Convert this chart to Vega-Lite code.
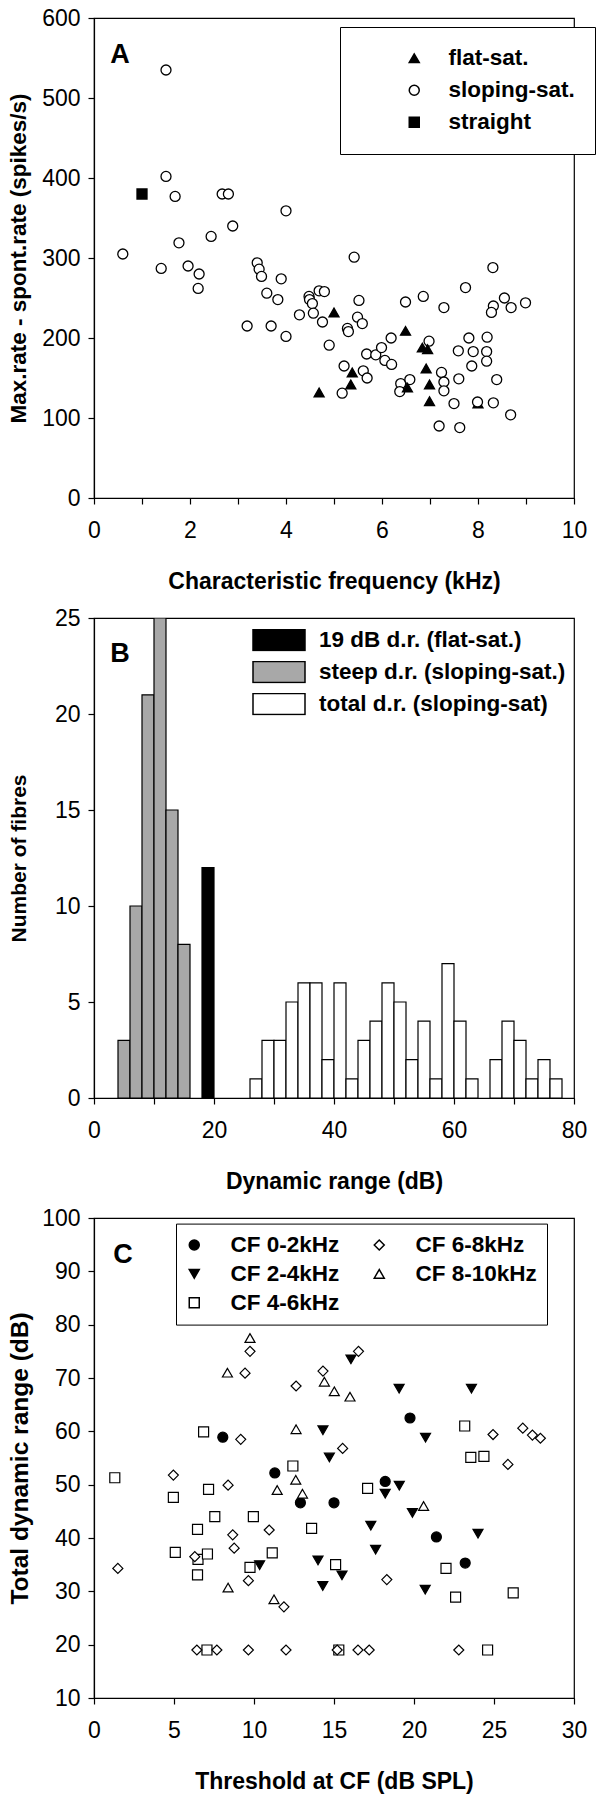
{
  "$schema": "https://vega.github.io/schema/vega-lite/v6.json",
  "padding": {"left": 6, "top": 6, "right": 5, "bottom": 5},
  "spacing": 12,
  "resolve": {"scale": {"x": "independent", "y": "independent", "fill": "independent", "shape": "independent"}, "legend": {"fill": "independent", "shape": "independent"}},
  "datasets": {
    "a": [
      {"f":1.5,"r":535,"type":"sloping-sat."},{"f":1.5,"r":402,"type":"sloping-sat."},{"f":1.69,"r":377,"type":"sloping-sat."},{"f":2.67,"r":380,"type":"sloping-sat."},{"f":2.8,"r":380,"type":"sloping-sat."},{"f":4.0,"r":359,"type":"sloping-sat."},{"f":2.89,"r":340,"type":"sloping-sat."},{"f":2.44,"r":327,"type":"sloping-sat."},{"f":1.77,"r":319,"type":"sloping-sat."},{"f":0.6,"r":305,"type":"sloping-sat."},{"f":1.4,"r":287,"type":"sloping-sat."},{"f":1.96,"r":290,"type":"sloping-sat."},{"f":2.19,"r":280,"type":"sloping-sat."},{"f":2.17,"r":262,"type":"sloping-sat."},{"f":3.4,"r":294,"type":"sloping-sat."},{"f":3.44,"r":286,"type":"sloping-sat."},{"f":3.49,"r":277,"type":"sloping-sat."},{"f":3.9,"r":274,"type":"sloping-sat."},{"f":3.6,"r":256,"type":"sloping-sat."},{"f":3.83,"r":248,"type":"sloping-sat."},{"f":4.48,"r":252,"type":"sloping-sat."},{"f":4.49,"r":248,"type":"sloping-sat."},{"f":4.55,"r":243,"type":"sloping-sat."},{"f":4.57,"r":231,"type":"sloping-sat."},{"f":4.69,"r":259,"type":"sloping-sat."},{"f":4.8,"r":258,"type":"sloping-sat."},{"f":3.19,"r":215,"type":"sloping-sat."},{"f":3.69,"r":215,"type":"sloping-sat."},{"f":4.0,"r":202,"type":"sloping-sat."},{"f":4.28,"r":229,"type":"sloping-sat."},{"f":4.76,"r":220,"type":"sloping-sat."},{"f":4.9,"r":191,"type":"sloping-sat."},{"f":5.42,"r":301,"type":"sloping-sat."},{"f":5.52,"r":247,"type":"sloping-sat."},{"f":5.49,"r":226,"type":"sloping-sat."},{"f":5.59,"r":218,"type":"sloping-sat."},{"f":5.28,"r":212,"type":"sloping-sat."},{"f":5.3,"r":208,"type":"sloping-sat."},{"f":5.17,"r":131,"type":"sloping-sat."},{"f":5.21,"r":165,"type":"sloping-sat."},{"f":5.61,"r":159,"type":"sloping-sat."},{"f":5.69,"r":150,"type":"sloping-sat."},{"f":5.68,"r":180,"type":"sloping-sat."},{"f":5.87,"r":179,"type":"sloping-sat."},{"f":5.99,"r":188,"type":"sloping-sat."},{"f":6.06,"r":172,"type":"sloping-sat."},{"f":6.2,"r":167,"type":"sloping-sat."},{"f":6.19,"r":200,"type":"sloping-sat."},{"f":6.49,"r":245,"type":"sloping-sat."},{"f":6.86,"r":252,"type":"sloping-sat."},{"f":7.29,"r":238,"type":"sloping-sat."},{"f":7.74,"r":263,"type":"sloping-sat."},{"f":6.98,"r":196,"type":"sloping-sat."},{"f":6.39,"r":143,"type":"sloping-sat."},{"f":6.37,"r":133,"type":"sloping-sat."},{"f":6.58,"r":148,"type":"sloping-sat."},{"f":7.24,"r":157,"type":"sloping-sat."},{"f":7.29,"r":145,"type":"sloping-sat."},{"f":7.29,"r":134,"type":"sloping-sat."},{"f":7.5,"r":118,"type":"sloping-sat."},{"f":7.19,"r":90,"type":"sloping-sat."},{"f":7.62,"r":88,"type":"sloping-sat."},{"f":7.6,"r":149,"type":"sloping-sat."},{"f":7.59,"r":184,"type":"sloping-sat."},{"f":7.9,"r":183,"type":"sloping-sat."},{"f":7.87,"r":165,"type":"sloping-sat."},{"f":7.81,"r":200,"type":"sloping-sat."},{"f":8.19,"r":201,"type":"sloping-sat."},{"f":8.18,"r":183,"type":"sloping-sat."},{"f":8.18,"r":171,"type":"sloping-sat."},{"f":8.39,"r":148,"type":"sloping-sat."},{"f":8.32,"r":119,"type":"sloping-sat."},{"f":8.68,"r":104,"type":"sloping-sat."},{"f":8.32,"r":240,"type":"sloping-sat."},{"f":8.28,"r":232,"type":"sloping-sat."},{"f":8.55,"r":250,"type":"sloping-sat."},{"f":8.69,"r":238,"type":"sloping-sat."},{"f":8.99,"r":244,"type":"sloping-sat."},{"f":8.31,"r":288,"type":"sloping-sat."},
      {"f":4.69,"r":132,"type":"flat-sat."},{"f":5.0,"r":232,"type":"flat-sat."},{"f":5.38,"r":157,"type":"flat-sat."},{"f":5.35,"r":142,"type":"flat-sat."},{"f":6.49,"r":209,"type":"flat-sat."},{"f":6.84,"r":188,"type":"flat-sat."},{"f":6.95,"r":186,"type":"flat-sat."},{"f":6.92,"r":162,"type":"flat-sat."},{"f":6.99,"r":142,"type":"flat-sat."},{"f":6.99,"r":121,"type":"flat-sat."},{"f":6.53,"r":138,"type":"flat-sat."},{"f":8.0,"r":118,"type":"flat-sat."},
      {"f":7.99,"r":120,"type":"sloping-sat."},
      {"f":1.0,"r":380,"type":"straight"}
    ],
    "b": [
      {"lo":4,"hi":6,"n":3,"kind":"steep d.r. (sloping-sat.)"},{"lo":6,"hi":8,"n":10,"kind":"steep d.r. (sloping-sat.)"},{"lo":8,"hi":10,"n":21,"kind":"steep d.r. (sloping-sat.)"},{"lo":10,"hi":12,"n":25,"kind":"steep d.r. (sloping-sat.)"},{"lo":12,"hi":14,"n":15,"kind":"steep d.r. (sloping-sat.)"},{"lo":14,"hi":16,"n":8,"kind":"steep d.r. (sloping-sat.)"},
      {"lo":18,"hi":20,"n":12,"kind":"19 dB d.r. (flat-sat.)"},
      {"lo":26,"hi":28,"n":1,"kind":"total d.r. (sloping-sat)"},{"lo":28,"hi":30,"n":3,"kind":"total d.r. (sloping-sat)"},{"lo":30,"hi":32,"n":3,"kind":"total d.r. (sloping-sat)"},{"lo":32,"hi":34,"n":5,"kind":"total d.r. (sloping-sat)"},{"lo":34,"hi":36,"n":6,"kind":"total d.r. (sloping-sat)"},{"lo":36,"hi":38,"n":6,"kind":"total d.r. (sloping-sat)"},{"lo":38,"hi":40,"n":2,"kind":"total d.r. (sloping-sat)"},{"lo":40,"hi":42,"n":6,"kind":"total d.r. (sloping-sat)"},{"lo":42,"hi":44,"n":1,"kind":"total d.r. (sloping-sat)"},{"lo":44,"hi":46,"n":3,"kind":"total d.r. (sloping-sat)"},{"lo":46,"hi":48,"n":4,"kind":"total d.r. (sloping-sat)"},{"lo":48,"hi":50,"n":6,"kind":"total d.r. (sloping-sat)"},{"lo":50,"hi":52,"n":5,"kind":"total d.r. (sloping-sat)"},{"lo":52,"hi":54,"n":2,"kind":"total d.r. (sloping-sat)"},{"lo":54,"hi":56,"n":4,"kind":"total d.r. (sloping-sat)"},{"lo":56,"hi":58,"n":1,"kind":"total d.r. (sloping-sat)"},{"lo":58,"hi":60,"n":7,"kind":"total d.r. (sloping-sat)"},{"lo":60,"hi":62,"n":4,"kind":"total d.r. (sloping-sat)"},{"lo":62,"hi":64,"n":1,"kind":"total d.r. (sloping-sat)"},{"lo":66,"hi":68,"n":2,"kind":"total d.r. (sloping-sat)"},{"lo":68,"hi":70,"n":4,"kind":"total d.r. (sloping-sat)"},{"lo":70,"hi":72,"n":3,"kind":"total d.r. (sloping-sat)"},{"lo":72,"hi":74,"n":1,"kind":"total d.r. (sloping-sat)"},{"lo":74,"hi":76,"n":2,"kind":"total d.r. (sloping-sat)"},{"lo":76,"hi":78,"n":1,"kind":"total d.r. (sloping-sat)"}
    ],
    "c": [
      {"t":8.05,"d":58.9,"cf":"CF 0-2kHz"},{"t":11.3,"d":52.2,"cf":"CF 0-2kHz"},{"t":12.9,"d":46.6,"cf":"CF 0-2kHz"},{"t":15.0,"d":46.6,"cf":"CF 0-2kHz"},{"t":18.2,"d":50.6,"cf":"CF 0-2kHz"},{"t":19.75,"d":62.5,"cf":"CF 0-2kHz"},{"t":21.4,"d":40.2,"cf":"CF 0-2kHz"},{"t":23.2,"d":35.3,"cf":"CF 0-2kHz"},
      {"t":10.35,"d":34.9,"cf":"CF 2-4kHz"},{"t":14.0,"d":35.8,"cf":"CF 2-4kHz"},{"t":14.3,"d":31.0,"cf":"CF 2-4kHz"},{"t":15.5,"d":33.0,"cf":"CF 2-4kHz"},{"t":16.06,"d":73.5,"cf":"CF 2-4kHz"},{"t":19.07,"d":68.0,"cf":"CF 2-4kHz"},{"t":23.59,"d":68.0,"cf":"CF 2-4kHz"},{"t":14.31,"d":60.2,"cf":"CF 2-4kHz"},{"t":14.71,"d":55.1,"cf":"CF 2-4kHz"},{"t":20.72,"d":58.8,"cf":"CF 2-4kHz"},{"t":19.08,"d":49.8,"cf":"CF 2-4kHz"},{"t":18.2,"d":48.3,"cf":"CF 2-4kHz"},{"t":17.3,"d":42.3,"cf":"CF 2-4kHz"},{"t":17.6,"d":37.8,"cf":"CF 2-4kHz"},{"t":19.9,"d":44.7,"cf":"CF 2-4kHz"},{"t":20.7,"d":30.3,"cf":"CF 2-4kHz"},{"t":24.0,"d":40.8,"cf":"CF 2-4kHz"},
      {"t":1.3,"d":51.3,"cf":"CF 4-6kHz"},{"t":4.96,"d":47.6,"cf":"CF 4-6kHz"},{"t":5.08,"d":37.3,"cf":"CF 4-6kHz"},{"t":6.85,"d":59.9,"cf":"CF 4-6kHz"},{"t":7.16,"d":49.1,"cf":"CF 4-6kHz"},{"t":7.55,"d":44.0,"cf":"CF 4-6kHz"},{"t":9.96,"d":44.0,"cf":"CF 4-6kHz"},{"t":6.47,"d":41.6,"cf":"CF 4-6kHz"},{"t":6.5,"d":36.0,"cf":"CF 4-6kHz"},{"t":7.09,"d":37.0,"cf":"CF 4-6kHz"},{"t":6.47,"d":33.1,"cf":"CF 4-6kHz"},{"t":9.75,"d":34.5,"cf":"CF 4-6kHz"},{"t":11.14,"d":37.2,"cf":"CF 4-6kHz"},{"t":12.43,"d":53.5,"cf":"CF 4-6kHz"},{"t":13.6,"d":41.8,"cf":"CF 4-6kHz"},{"t":7.06,"d":19.0,"cf":"CF 4-6kHz"},{"t":15.1,"d":35.0,"cf":"CF 4-6kHz"},{"t":15.3,"d":19.0,"cf":"CF 4-6kHz"},{"t":17.1,"d":49.3,"cf":"CF 4-6kHz"},{"t":23.17,"d":61.0,"cf":"CF 4-6kHz"},{"t":23.55,"d":55.1,"cf":"CF 4-6kHz"},{"t":24.37,"d":55.3,"cf":"CF 4-6kHz"},{"t":22.0,"d":34.3,"cf":"CF 4-6kHz"},{"t":22.6,"d":28.9,"cf":"CF 4-6kHz"},{"t":24.6,"d":19.0,"cf":"CF 4-6kHz"},{"t":26.2,"d":29.7,"cf":"CF 4-6kHz"},
      {"t":1.49,"d":34.3,"cf":"CF 6-8kHz"},{"t":4.96,"d":51.8,"cf":"CF 6-8kHz"},{"t":9.17,"d":58.5,"cf":"CF 6-8kHz"},{"t":8.38,"d":49.9,"cf":"CF 6-8kHz"},{"t":9.44,"d":70.9,"cf":"CF 6-8kHz"},{"t":9.75,"d":75.0,"cf":"CF 6-8kHz"},{"t":12.63,"d":68.5,"cf":"CF 6-8kHz"},{"t":6.3,"d":36.5,"cf":"CF 6-8kHz"},{"t":8.67,"d":40.6,"cf":"CF 6-8kHz"},{"t":8.76,"d":38.1,"cf":"CF 6-8kHz"},{"t":10.95,"d":41.5,"cf":"CF 6-8kHz"},{"t":9.65,"d":32.0,"cf":"CF 6-8kHz"},{"t":11.87,"d":27.1,"cf":"CF 6-8kHz"},{"t":6.43,"d":19.0,"cf":"CF 6-8kHz"},{"t":7.68,"d":19.0,"cf":"CF 6-8kHz"},{"t":9.65,"d":19.0,"cf":"CF 6-8kHz"},{"t":12.0,"d":19.0,"cf":"CF 6-8kHz"},{"t":14.31,"d":71.3,"cf":"CF 6-8kHz"},{"t":16.53,"d":75.0,"cf":"CF 6-8kHz"},{"t":15.54,"d":56.8,"cf":"CF 6-8kHz"},{"t":24.94,"d":59.4,"cf":"CF 6-8kHz"},{"t":26.8,"d":60.6,"cf":"CF 6-8kHz"},{"t":27.4,"d":59.3,"cf":"CF 6-8kHz"},{"t":27.9,"d":58.7,"cf":"CF 6-8kHz"},{"t":25.87,"d":53.8,"cf":"CF 6-8kHz"},{"t":18.3,"d":32.2,"cf":"CF 6-8kHz"},{"t":15.2,"d":19.0,"cf":"CF 6-8kHz"},{"t":16.5,"d":19.0,"cf":"CF 6-8kHz"},{"t":17.2,"d":19.0,"cf":"CF 6-8kHz"},{"t":22.8,"d":19.0,"cf":"CF 6-8kHz"},
      {"t":8.34,"d":71.0,"cf":"CF 8-10kHz"},{"t":9.75,"d":77.5,"cf":"CF 8-10kHz"},{"t":12.63,"d":60.4,"cf":"CF 8-10kHz"},{"t":12.61,"d":50.9,"cf":"CF 8-10kHz"},{"t":11.45,"d":49.0,"cf":"CF 8-10kHz"},{"t":13.03,"d":48.3,"cf":"CF 8-10kHz"},{"t":8.38,"d":30.7,"cf":"CF 8-10kHz"},{"t":11.25,"d":28.5,"cf":"CF 8-10kHz"},{"t":14.4,"d":69.3,"cf":"CF 8-10kHz"},{"t":15.02,"d":67.5,"cf":"CF 8-10kHz"},{"t":16.0,"d":66.5,"cf":"CF 8-10kHz"},{"t":20.6,"d":46.0,"cf":"CF 8-10kHz"}
    ]
  },
  "vconcat": [
    {
      "width": 480, "height": 480,
      "layer": [
        {
          "data": {"name": "a"},
          "mark": {"type": "point", "stroke": "black", "strokeWidth": 1.3, "opacity": 1, "size": 100},
          "encoding": {
            "x": {"field": "f", "type": "quantitative", "scale": {"domain": [0, 10], "nice": false},
                  "axis": {"values": [0,1,2,3,4,5,6,7,8,9,10], "labelExpr": "datum.value % 2 === 0 ? datum.label : ''", "title": "Characteristic frequency (kHz)"}},
            "y": {"field": "r", "type": "quantitative", "scale": {"domain": [0, 600], "nice": false},
                  "axis": {"values": [0,100,200,300,400,500,600], "title": "Max.rate - spont.rate (spikes/s)", "titleFontSize": 22.5, "titlePadding": 11.1}},
            "shape": {"field": "type", "type": "nominal",
                      "scale": {"domain": ["flat-sat.", "sloping-sat.", "straight"], "range": ["triangle-up", "circle", "square"]},
                      "legend": {"title": null, "orient": "none", "legendX": 246, "legendY": 9, "padding": 20, "symbolOffset": 43, "labelOffset": 23, "rowPadding": 9, "strokeColor": "black", "fillColor": "white", "symbolSize": 100,
                                 "encode": {"symbols": {"update": {"stroke": {"value": "black"}, "strokeWidth": {"value": 1.3}}}}}},
            "fill": {"field": "type", "type": "nominal",
                     "scale": {"domain": ["flat-sat.", "sloping-sat.", "straight"], "range": ["black", "white", "black"]},
                     "legend": {"title": null, "orient": "none", "legendX": 246, "legendY": 9, "padding": 20, "symbolOffset": 43, "labelOffset": 23, "rowPadding": 9, "strokeColor": "black", "fillColor": "white", "symbolSize": 100,
                                "encode": {"symbols": {"update": {"stroke": {"value": "black"}, "strokeWidth": {"value": 1.3}}}}}}
          }
        },
        {
          "data": {"values": [{}]},
          "mark": {"type": "text", "text": "A", "fontSize": 27, "fontWeight": "bold", "align": "left", "baseline": "alphabetic", "font": "Liberation Sans", "color": "black"},
          "encoding": {"x": {"datum": 0.34}, "y": {"datum": 544}}
        }
      ]
    },
    {
      "width": 480, "height": 480,
      "layer": [
        {
          "data": {"name": "b"},
          "mark": {"type": "bar", "stroke": "black", "strokeWidth": 1.2, "clip": true},
          "encoding": {
            "x": {"field": "lo", "type": "quantitative", "scale": {"domain": [0, 80], "nice": false},
                  "axis": {"values": [0,10,20,30,40,50,60,70,80], "labelExpr": "datum.value % 20 === 0 ? datum.label : ''", "title": "Dynamic range (dB)"}},
            "x2": {"field": "hi"},
            "y": {"field": "n", "type": "quantitative", "scale": {"domain": [0, 25], "nice": false},
                  "axis": {"values": [0,5,10,15,20,25], "title": "Number of fibres", "titleFontSize": 21, "titlePadding": 25.4}},
            "y2": {"datum": 0},
            "fill": {"field": "kind", "type": "nominal",
                     "scale": {"domain": ["19 dB d.r. (flat-sat.)", "steep d.r. (sloping-sat.)", "total d.r. (sloping-sat)"], "range": ["black", "#a8a8a8", "white"]},
                     "legend": {"title": null, "orient": "none", "legendX": 158, "legendY": 11, "padding": 0, "symbolType": "M-1,-0.4H1V0.4H-1Z", "symbolSize": 2704, "clipHeight": 22, "labelOffset": 13, "rowPadding": 9,
                                "encode": {"symbols": {"update": {"stroke": {"value": "black"}, "strokeWidth": {"value": 1.2}}}}}}
          }
        },
        {
          "data": {"values": [{}]},
          "mark": {"type": "text", "text": "B", "fontSize": 27, "fontWeight": "bold", "align": "left", "baseline": "alphabetic", "font": "Liberation Sans", "color": "black"},
          "encoding": {"x": {"datum": 2.7}, "y": {"datum": 22.7}}
        }
      ]
    },
    {
      "width": 480, "height": 480,
      "layer": [
        {
          "data": {"name": "c"},
          "mark": {"type": "point", "stroke": "black", "strokeWidth": 1.2, "opacity": 1, "size": 100},
          "encoding": {
            "x": {"field": "t", "type": "quantitative", "scale": {"domain": [0, 30], "nice": false},
                  "axis": {"values": [0,2.5,5,7.5,10,12.5,15,17.5,20,22.5,25,27.5,30], "labelExpr": "datum.value % 5 === 0 ? datum.label : ''", "title": "Threshold at CF (dB SPL)"}},
            "y": {"field": "d", "type": "quantitative", "scale": {"domain": [10, 100], "nice": false, "zero": false},
                  "axis": {"values": [10,20,30,40,50,60,70,80,90,100], "title": "Total dynamic range (dB)", "titleFontSize": 24.5, "titlePadding": 9.1}},
            "shape": {"field": "cf", "type": "nominal",
                      "scale": {"domain": ["CF 0-2kHz", "CF 2-4kHz", "CF 4-6kHz", "CF 6-8kHz", "CF 8-10kHz"], "range": ["circle", "triangle-down", "square", "diamond", "triangle-up"]},
                      "legend": {"title": null, "orient": "none", "legendX": 82, "legendY": 5.6, "columns": 2, "padding": 10, "symbolOffset": -3, "labelOffset": 25, "columnPadding": 31, "rowPadding": 6, "strokeColor": "black", "fillColor": "white", "symbolSize": 100,
                                 "encode": {"symbols": {"update": {"stroke": {"value": "black"}, "strokeWidth": {"value": 1.2}}}}}},
            "fill": {"field": "cf", "type": "nominal",
                     "scale": {"domain": ["CF 0-2kHz", "CF 2-4kHz", "CF 4-6kHz", "CF 6-8kHz", "CF 8-10kHz"], "range": ["black", "black", "white", "white", "white"]},
                     "legend": {"title": null, "orient": "none", "legendX": 82, "legendY": 5.6, "columns": 2, "padding": 10, "symbolOffset": -3, "labelOffset": 25, "columnPadding": 31, "rowPadding": 6, "strokeColor": "black", "fillColor": "white", "symbolSize": 100,
                                "encode": {"symbols": {"update": {"stroke": {"value": "black"}, "strokeWidth": {"value": 1.2}}}}}}
          }
        },
        {
          "data": {"values": [{}]},
          "mark": {"type": "text", "text": "C", "fontSize": 27, "fontWeight": "bold", "align": "left", "baseline": "alphabetic", "font": "Liberation Sans", "color": "black"},
          "encoding": {"x": {"datum": 1.2}, "y": {"datum": 91.6}}
        }
      ]
    }
  ],
  "config": {
    "font": "Liberation Sans",
    "view": {"stroke": "black", "strokeWidth": 1.2},
    "axis": {"grid": false, "domainColor": "black", "domainWidth": 1.2, "tickColor": "black", "tickWidth": 1.2, "tickSize": 6,
             "labelFont": "Liberation Sans", "labelFontSize": 23, "labelColor": "black", "labelFlush": false, "labelOverlap": false, "labelBound": false,
             "titleFont": "Liberation Sans", "titleFontWeight": "bold", "titleColor": "black"},
    "axisX": {"labelPadding": 15, "titlePadding": 28, "titleFontSize": 23},
    "axisY": {"labelPadding": 8},
    "legend": {"labelFont": "Liberation Sans", "labelFontSize": 22.5, "labelFontWeight": "bold", "labelColor": "black", "labelLimit": 400, "symbolOpacity": 1}
  }
}
